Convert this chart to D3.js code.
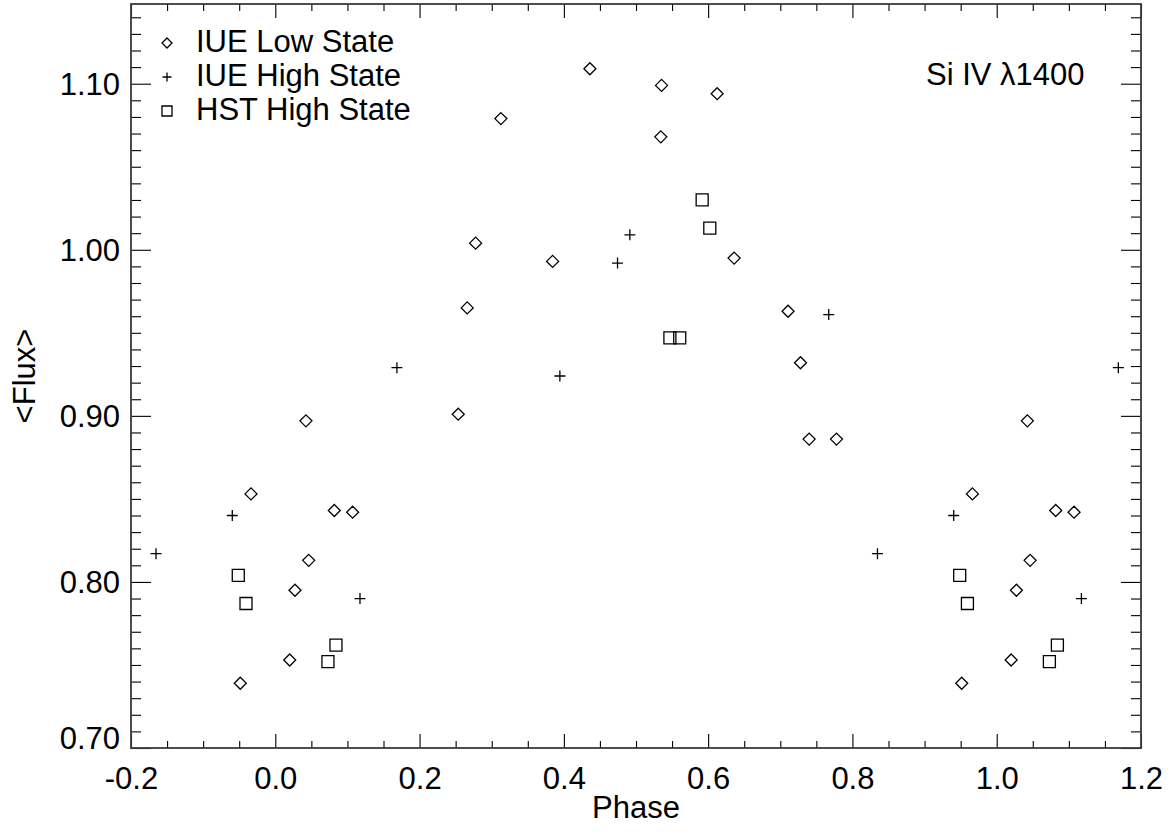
<!DOCTYPE html>
<html>
<head>
<meta charset="utf-8">
<script src="https://cdn.jsdelivr.net/npm/d3@7"></script>
<style>
  body { margin: 0; background: #fff; }
  text { font-family: "Liberation Sans", Arial, Helvetica, sans-serif; fill: #000; }
</style>
</head>
<body>
<div id="chart"></div>
<script>
// Base phases in [0,1); the plot repeats every point at phase-1 and phase+1 inside the x range
const lowPhase  = [0.0425, 0.9663, 0.0818, 0.1072, 0.0463, 0.0273, 0.0200, 0.9515,
                   0.4361, 0.5354, 0.6125, 0.3127, 0.5344, 0.2777, 0.3844, 0.6360,
                   0.2660, 0.2536, 0.7108, 0.7280, 0.7400, 0.7779];
const lowFlux   = [0.897, 0.853, 0.843, 0.842, 0.813, 0.795, 0.753, 0.739,
                   1.109, 1.099, 1.094, 1.079, 1.068, 1.004, 0.993, 0.995,
                   0.965, 0.901, 0.963, 0.932, 0.886, 0.886];

const highPhase = [0.8347, 0.9404, 0.1174, 0.1686, 0.3945, 0.4744, 0.4915, 0.7672];
const highFlux  = [0.817, 0.840, 0.790, 0.929, 0.924, 0.992, 1.009, 0.961];

const hstPhase  = [0.9487, 0.9594, 0.0841, 0.0730, 0.5917, 0.6023, 0.5470, 0.5606];
const hstFlux   = [0.804, 0.787, 0.762, 0.752, 1.030, 1.013, 0.947, 0.947];

const legendLabels = ["IUE Low State", "IUE High State", "HST High State"];
const xMajor = [-0.2, 0.0, 0.2, 0.4, 0.6, 0.8, 1.0, 1.2];
const yMajor = [0.70, 0.80, 0.90, 1.00, 1.10];
const xRange = [-0.2, 1.2];
const yRange = [0.70, 1.148];

const width = 1169;
const height = 832;
const margin = { left: 131, right: 28, top: 4, bottom: 84 };

const svg = d3.select("#chart")
    .append("svg")
    .attr("width", width)
    .attr("height", height);

const x = d3.scaleLinear().domain(xRange).range([margin.left, width - margin.right]);
const y = d3.scaleLinear().domain(yRange).range([height - margin.bottom, margin.top]);

const xMinor = d3.range(-0.2, 1.2001, 0.05).map(d => +d.toFixed(2)).filter(d => !xMajor.some(m => Math.abs(m - d) < 1e-6));
const yMinor = d3.range(0.70, 1.1481, 0.01).map(d => +d.toFixed(2)).filter(d => !yMajor.some(m => Math.abs(m - d) < 1e-6));

const x0 = margin.left, x1 = width - margin.right;
const y0 = height - margin.bottom, y1 = margin.top;

// ticks, drawn with d3 axes (inward, mirrored on all four sides)
function tickAxis(axis, transform) {
    const g = svg.append("g").attr("transform", transform).call(axis);
    g.select(".domain").remove();
    g.selectAll(".tick line").attr("stroke", "#000").attr("stroke-width", 1.1);
    return g;
}

// bottom
const xb = tickAxis(d3.axisBottom(x).tickValues(xMajor).tickSize(-14).tickPadding(19)
        .tickFormat(d => d.toFixed(1)), `translate(0,${y0})`);
xb.selectAll("text").style("font-size", "31px").attr("fill", "#000");
tickAxis(d3.axisBottom(x).tickValues(xMinor).tickSize(-7).tickFormat(""), `translate(0,${y0})`);
// top
tickAxis(d3.axisTop(x).tickValues(xMajor).tickSize(-14).tickFormat(""), `translate(0,${y1})`);
tickAxis(d3.axisTop(x).tickValues(xMinor).tickSize(-7).tickFormat(""), `translate(0,${y1})`);
// left
const yl = tickAxis(d3.axisLeft(y).tickValues(yMajor).tickSize(-20).tickPadding(11)
        .tickFormat(d => d.toFixed(2)), `translate(${x0},0)`);
yl.selectAll("text").style("font-size", "31px").attr("fill", "#000").attr("dy", "0.35em");
yl.selectAll("text").filter(d => d === yRange[0]).attr("dy", "0em");
tickAxis(d3.axisLeft(y).tickValues(yMinor).tickSize(-10).tickFormat(""), `translate(${x0},0)`);
// right
tickAxis(d3.axisRight(y).tickValues(yMajor).tickSize(-20).tickFormat(""), `translate(${x1},0)`);
tickAxis(d3.axisRight(y).tickValues(yMinor).tickSize(-10).tickFormat(""), `translate(${x1},0)`);

// frame
svg.append("rect")
    .attr("x", x0).attr("y", y1)
    .attr("width", x1 - x0).attr("height", y0 - y1)
    .attr("fill", "none").attr("stroke", "#3a3a3a").attr("stroke-width", 1.8);

// axis titles
svg.append("text")
    .attr("x", (x0 + x1) / 2).attr("y", 818)
    .attr("text-anchor", "middle").style("font-size", "31px")
    .text("Phase");

svg.append("text")
    .attr("transform", `translate(35,${(y0 + y1) / 2}) rotate(-90)`)
    .attr("text-anchor", "middle").style("font-size", "31px")
    .text("<Flux>");

svg.append("text")
    .attr("x", 926).attr("y", 85)
    .style("font-size", "31px")
    .text("Si IV \u03bb1400");

// marker shapes
const markerPath = {
    diamond: function(s) { return `M0,${-s}L${s},0L0,${s}L${-s},0Z`; },
    plus:    function(s) { return `M${-s},0H${s}M0,${-s}V${s}`; },
    square:  function(s) { return `M${-s},${-s}H${s}V${s}H${-s}Z`; }
};

function expand(phases, fluxes) {
    const out = [];
    phases.forEach(function(p, i) {
        [-1, 0, 1].forEach(function(k) {
            const q = p + k;
            if (q >= xRange[0] && q <= xRange[1]) out.push({ phase: q, flux: fluxes[i] });
        });
    });
    return out;
}

const series = [
    { name: legendLabels[0], shape: "diamond", size: 6,   data: expand(lowPhase, lowFlux) },
    { name: legendLabels[1], shape: "plus",    size: 5.5, data: expand(highPhase, highFlux) },
    { name: legendLabels[2], shape: "square",  size: 6,   data: expand(hstPhase, hstFlux) }
];

series.forEach(function(s) {
    svg.append("g")
        .selectAll("path")
        .data(s.data)
        .join("path")
        .attr("transform", d => `translate(${x(d.phase)},${y(d.flux)})`)
        .attr("d", markerPath[s.shape](s.size))
        .attr("fill", "none")
        .attr("stroke", "#000")
        .attr("stroke-width", 1.3);
});

// legend
const legend = svg.append("g");
series.forEach(function(s, i) {
    const by = 52 + i * 34;
    legend.append("path")
        .attr("transform", `translate(167,${by - 9})`)
        .attr("d", markerPath[s.shape](s.size - 1))
        .attr("fill", "none").attr("stroke", "#000").attr("stroke-width", 1.3);
    legend.append("text")
        .attr("x", 196).attr("y", by)
        .style("font-size", "31px")
        .text(s.name);
});
</script>
</body>
</html>
